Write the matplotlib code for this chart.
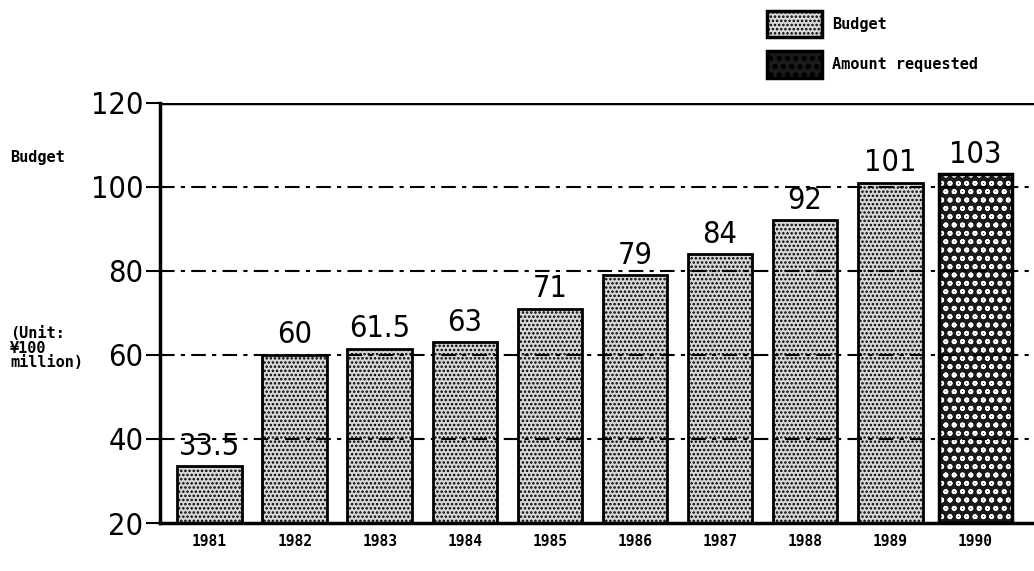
import matplotlib
matplotlib.use("Agg")
import matplotlib.pyplot as plt
from matplotlib.patches import Patch

years = ["1981", "1982", "1983", "1984", "1985", "1986", "1987", "1988", "1989", "1990"]
values = [33.5, 60, 61.5, 63, 71, 79, 84, 92, 101, 103]
value_labels = ["33.5", "60", "61.5", "63", "71", "79", "84", "92", "101", "103"]
kinds = ["Budget"] * 9 + ["Amount requested"]
yticks = [20, 40, 60, 80, 100, 120]

NUMFONT = dict(family=["DejaVu Sans"], fontstretch="condensed")

plt.rcParams['hatch.linewidth'] = 1.2
fig = plt.figure(figsize=(10.34, 5.71), dpi=100)
ax = fig.add_axes([0.155, 0.084, 0.845, 0.736])

x = list(range(len(years)))
for xi, v, k in zip(x, values, kinds):
    if k == "Budget":
        ax.bar(xi, v - 20, bottom=20, width=0.76, facecolor="#d8d8d8", edgecolor="black",
               hatch="....", linewidth=2, zorder=2)
    else:
        plt.rcParams['hatch.color'] = 'white'
        ax.bar(xi, v - 20, bottom=20, width=0.86, facecolor="#1a1a1a", edgecolor="white",
               hatch="oo", linewidth=0, zorder=2)
        ax.bar(xi, v - 20, bottom=20, width=0.86, facecolor="none", edgecolor="black",
               linewidth=2.5, zorder=2)
        plt.rcParams['hatch.color'] = 'black'

for xi, v, lab in zip(x, values, value_labels):
    ax.annotate(lab, (xi, v), xytext=(0, 4), textcoords="offset points", ha="center", va="bottom",
                fontsize=22, zorder=4, **NUMFONT)

for yv in yticks[1:-1]:
    ax.axhline(yv, color="black", lw=1.5, ls=(0, (7, 3, 2, 3)), zorder=3)
ax.axhline(120, color="black", lw=2.5, zorder=3)

ax.set_xlim(-0.58, 9.69)
ax.set_ylim(20, 120)
ax.set_yticks(yticks)
ax.set_yticklabels([str(t) for t in yticks], fontsize=22, **NUMFONT)
ax.set_xticks(x)
ax.set_xticklabels(years, fontsize=10.5, fontweight="bold", family="DejaVu Sans Mono")
ax.tick_params(axis="y", length=10, width=1.5, pad=2)
ax.tick_params(axis="x", length=0, pad=8)
for s in ["top", "right"]:
    ax.spines[s].set_visible(False)
ax.spines["left"].set_linewidth(2.5)
ax.spines["bottom"].set_linewidth(2.5)

fig.text(0.01, 0.725, "Budget", fontsize=11, fontweight="bold", family="DejaVu Sans Mono", va="center")
fig.text(0.01, 0.39, "(Unit:\n¥100\nmillion)", fontsize=11, fontweight="bold", family="DejaVu Sans Mono",
         va="center", linespacing=0.95)

handles = [Patch(facecolor="#d8d8d8", edgecolor="black", hatch="....", linewidth=2.5, label="Budget"),
           Patch(facecolor="#1a1a1a", edgecolor="black", hatch="oo", linewidth=2.5, label="Amount requested")]
leg = fig.legend(handles=handles, loc="upper left", bbox_to_anchor=(0.728, 1.005), frameon=False,
                 handlelength=3.6, handleheight=2.3, labelspacing=0.9, handletextpad=0.7,
                 prop={"family": "DejaVu Sans Mono", "weight": "bold", "size": 11})

fig.savefig("out.png", dpi=100)
